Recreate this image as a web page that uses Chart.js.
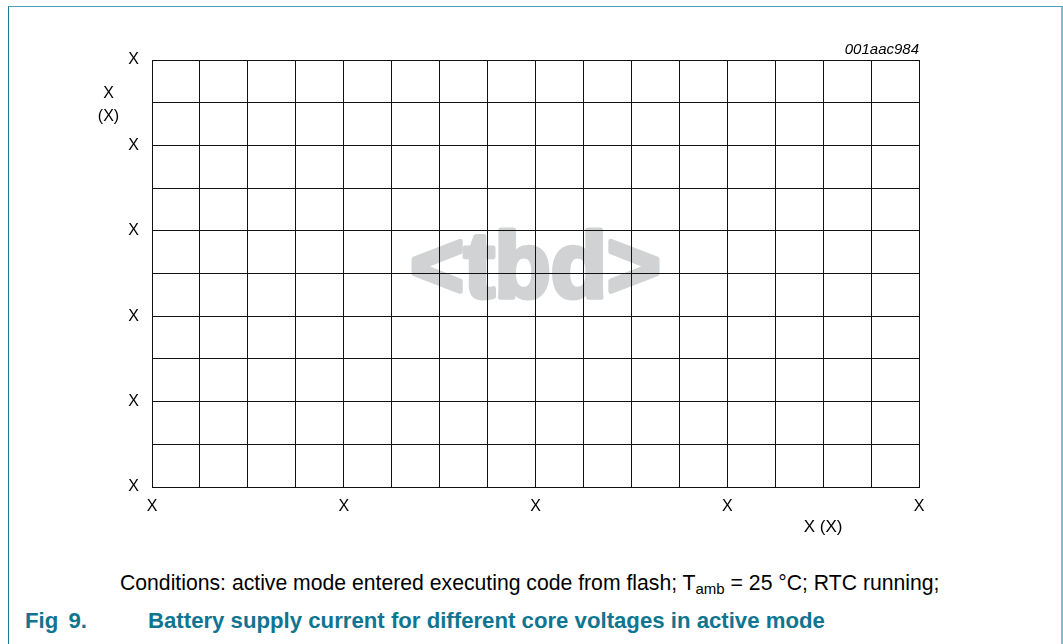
<!DOCTYPE html>
<html>
<head>
<meta charset="utf-8">
<script src="https://cdn.jsdelivr.net/npm/chart.js@4.4.0/dist/chart.umd.min.js"></script>
<style>
  html, body { margin: 0; padding: 0; background: #fff; overflow: hidden; }
  body { width: 1063px; height: 644px; position: relative; font-family: 'Liberation Sans', Arial, sans-serif; }
  #frame {
    position: absolute; left: 8px; top: 6px; width: 1052px; height: 700px;
    border-top: 1px solid #4aa0b8; border-left: 1px solid #1b7d97; border-right: 2px solid #7abfcc;
  }
  #wrap { position: absolute; left: 0; top: 0; width: 1063px; height: 560px; }
  .cond { position: absolute; left: 120px; top: 572px; font-size: 21.2px; line-height: 21px; color: #000; white-space: nowrap; }
  .cond sub { font-size: 15px; vertical-align: -4px; line-height: 0; }
  .fig { position: absolute; top: 610px; font-size: 22.2px; line-height: 22px; font-weight: bold; color: #0f7590; white-space: nowrap; }
</style>
</head>
<body>
<div id="frame"></div>
<div id="wrap"><canvas id="chart" width="1063" height="560"></canvas></div>
<div class="cond">Conditions: active mode entered executing code from flash; T<sub>amb</sub> = 25 °C; RTC running;</div>
<div class="fig" style="left:25px; word-spacing:4px">Fig 9.</div>
<div class="fig" style="left:148px">Battery supply current for different core voltages in active mode</div>
<script>
// grid divisions and labelled ticks (all placeholders "X" in the source)
var xDivisions = 16;
var yDivisions = 10;
var xTickValues = [0, 4, 8, 12, 16];
var xTickLabels = ['X', 'X', 'X', 'X', 'X'];
var yTickValues = [0, 2, 4, 6, 8, 10];
var yTickLabels = ['X', 'X', 'X', 'X', 'X', 'X'];
var xTitle = 'X (X)';
var yTitle = ['X', '(X)'];
var figCode = '001aac984';
var watermark = '<tbd>';
// no curves yet, the figure is still "to be defined"
var seriesValues = [];

var fontFamily = "'Liberation Sans', Arial, sans-serif";

function tickLabel(values, labels) {
  return function(v) {
    var i = values.indexOf(v);
    return i >= 0 ? labels[i] : '';
  };
}

var extras = {
  id: 'extras',
  beforeDraw: function(chart) {
    // watermark sits under the grid
    var a = chart.chartArea, ctx = chart.ctx;
    var cx = (a.left + a.right) / 2, cy = (a.top + a.bottom) / 2 + 23;
    ctx.save();
    ctx.fillStyle = '#d1d2d4';
    ctx.strokeStyle = '#d1d2d4';
    ctx.lineWidth = 5;
    ctx.lineJoin = 'round';
    ctx.font = 'bold 92px ' + fontFamily;
    ctx.textAlign = 'center';
    ctx.textBaseline = 'alphabetic';
    ctx.fillText(watermark, cx, cy);
    ctx.strokeText(watermark, cx, cy);
    ctx.restore();
  },
  afterDraw: function(chart) {
    var a = chart.chartArea, ctx = chart.ctx;
    ctx.save();
    ctx.fillStyle = '#000';
    ctx.textBaseline = 'alphabetic';
    ctx.font = '16px ' + fontFamily;
    ctx.textAlign = 'center';
    ctx.fillText(yTitle[0], a.left - 43.5, a.top + 38);
    ctx.fillText(yTitle[1], a.left - 43.5, a.top + 61);
    ctx.font = '17px ' + fontFamily;
    ctx.fillText(xTitle, a.left + (a.right - a.left) * 0.875, a.bottom + 45);
    ctx.font = 'italic 15px ' + fontFamily;
    ctx.textAlign = 'right';
    ctx.fillText(figCode, a.right, a.top - 6);
    ctx.restore();
  }
};

var ctx = document.getElementById('chart').getContext('2d');

var myChart = new Chart(ctx, {
  type: 'scatter',
  data: {
    datasets: [{
      label: 'data',
      data: seriesValues,
      borderColor: '#000',
      showLine: true,
      pointRadius: 0
    }]
  },
  options: {
    responsive: false,
    animation: false,
    layout: { padding: { left: 0, top: 60, right: 144, bottom: 0 } },
    plugins: { legend: { display: false }, tooltip: { enabled: false } },
    scales: {
      x: {
        type: 'linear',
        position: 'bottom',
        min: 0,
        max: xDivisions,
        afterFit: function(s) { s.height = 73; },
        grid: { color: '#111', lineWidth: 1, drawTicks: false },
        border: { color: '#111' },
        ticks: {
          stepSize: 1, autoSkip: false, maxRotation: 0, padding: 10,
          color: '#000', font: { family: fontFamily, size: 16 },
          callback: tickLabel(xTickValues, xTickLabels)
        }
      },
      y: {
        type: 'linear',
        min: 0,
        max: yDivisions,
        afterFit: function(s) { s.width = 152; },
        grid: { color: '#111', lineWidth: 1, drawTicks: false },
        border: { color: '#111' },
        ticks: {
          stepSize: 1, autoSkip: false, padding: 13,
          color: '#000', font: { family: fontFamily, size: 16 },
          callback: tickLabel(yTickValues, yTickLabels)
        }
      }
    }
  },
  plugins: [extras]
});
</script>
</body>
</html>
